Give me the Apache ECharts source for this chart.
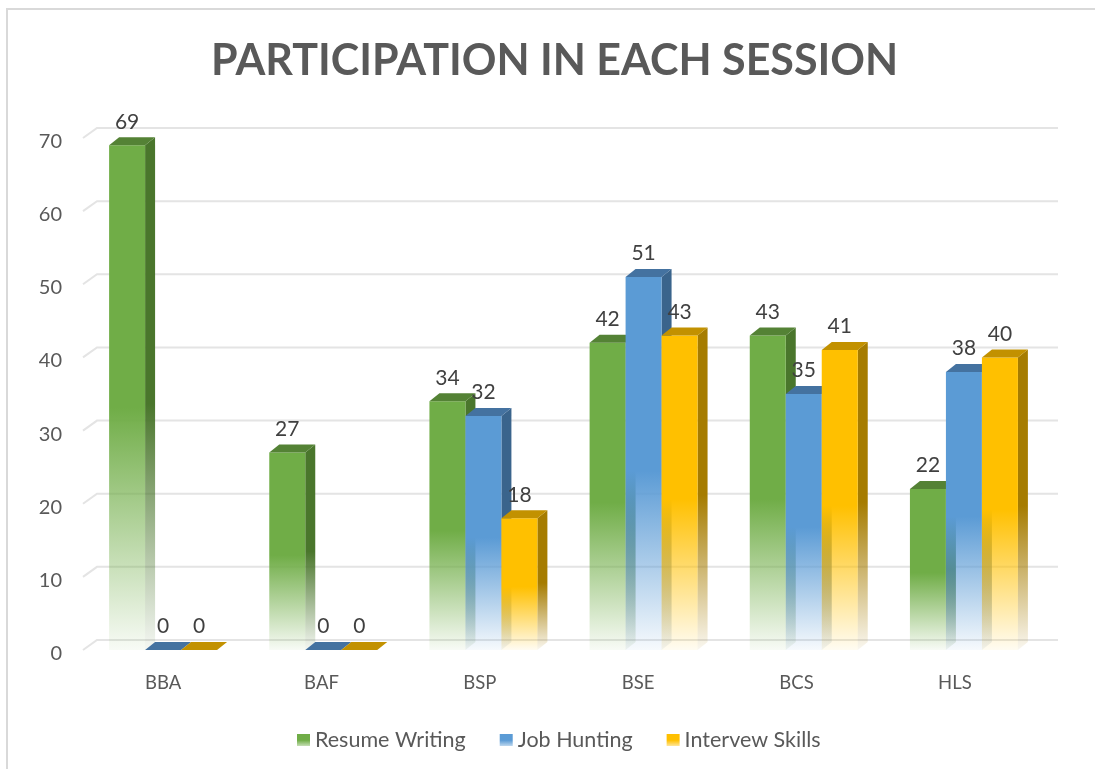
<!DOCTYPE html>
<html>
<head>
<meta charset="utf-8">
<script src="https://cdn.jsdelivr.net/npm/echarts@6/dist/echarts.min.js"></script>
<style>
html,body{margin:0;padding:0;background:#fff;}
#chart{width:1095px;height:769px;}
</style>
</head>
<body>
<div id="chart"></div>
<script>
var categories = ['BBA', 'BAF', 'BSP', 'BSE', 'BCS', 'HLS'];
var seriesNames = ['Resume Writing', 'Job Hunting', 'Intervew Skills'];
var resumeWriting = [69, 27, 34, 42, 43, 22];
var jobHunting = [0, 0, 32, 51, 35, 38];
var interviewSkills = [0, 0, 18, 43, 41, 40];
var yTicks = [0, 10, 20, 30, 40, 50, 60, 70];

var FONT = 'Lato';
var palette = [
  {front: [112, 173, 71], side: [74, 118, 44], top: [84, 130, 53]},
  {front: [91, 155, 213], side: [58, 100, 140], top: [68, 114, 160]},
  {front: [255, 192, 0], side: [166, 124, 0], top: [194, 145, 0]}
];
function rgba(c, a) { return 'rgba(' + c[0] + ',' + c[1] + ',' + c[2] + ',' + a + ')'; }
function fade(c, endA) {
  return new echarts.graphic.LinearGradient(0, 0, 0, 1, [
    {offset: 0, color: rgba(c, 1)},
    {offset: 0.52, color: rgba(c, 1)},
    {offset: 1, color: rgba(c, endA)}
  ]);
}
var DX = 10, DY = 8, BAR_RATIO = 0.2247;

function barRender(si) {
  var pal = palette[si];
  return function (params, api) {
    var ci = api.value(0), v = api.value(1);
    var base = api.coord([ci, 0]);
    var tp = api.coord([ci, v]);
    var band = api.size([1, 0])[0];
    var w = band * BAR_RATIO;
    var x0 = base[0] - 1.5 * w + si * w;
    var yb = base[1], yt = tp[1];
    var h = yb - yt;
    var children = [];
    if (h > 0) {
      children.push({
        type: 'polygon',
        shape: {points: [[x0 + w, yt], [x0 + w + DX, yt - DY], [x0 + w + DX, yb - DY], [x0 + w, yb]]},
        style: {fill: fade(pal.side, 0.06)}
      });
      children.push({
        type: 'rect',
        shape: {x: x0, y: yt, width: w, height: h},
        style: {fill: fade(pal.front, 0.05)}
      });
    }
    children.push({
      type: 'polygon',
      shape: {points: [[x0, yt], [x0 + DX, yt - DY], [x0 + w + DX, yt - DY], [x0 + w, yt]]},
      style: {fill: rgba(pal.top, 1)}
    });
    children.push({
      type: 'text',
      style: {
        text: String(v), x: x0 + w / 2, y: yt - 13,
        align: 'center', verticalAlign: 'bottom',
        fontSize: 21, fontFamily: FONT, fill: '#404040'
      }
    });
    return {type: 'group', children: children};
  };
}

function gridRender(params, api) {
  var t = api.value(1);
  var y = api.coord([0, t])[1];
  var cs = params.coordSys;
  return {
    type: 'polyline',
    shape: {points: [[cs.x, y], [cs.x + 14, y - 10], [cs.x + cs.width + 14, y - 10]]},
    style: {stroke: '#e4e4e4', lineWidth: 2, fill: null}
  };
}

function toPairs(arr) { return arr.map(function (v, i) { return [i, v]; }); }

var seriesData = [resumeWriting, jobHunting, interviewSkills];
var series = [{
  type: 'custom', name: '_grid', xAxisIndex: 0, yAxisIndex: 0, z: 1,
  renderItem: gridRender, silent: true,
  data: yTicks.map(function (t) { return [0, t]; }),
  encode: {x: 0, y: 1}
}];
seriesData.forEach(function (arr, si) {
  series.push({
    type: 'custom', name: seriesNames[si], xAxisIndex: 0, yAxisIndex: 0, z: 2,
    renderItem: barRender(si),
    itemStyle: {color: rgba(palette[si].front, 1)},
    data: toPairs(arr),
    encode: {x: 0, y: 1}
  });
});

var chart = echarts.init(document.getElementById('chart'));
chart.setOption({
  backgroundColor: '#ffffff',
  animation: false,
  graphic: [{
    type: 'rect', shape: {x: 7, y: 9, width: 1200, height: 900},
    style: {fill: null, stroke: '#d9d9d9', lineWidth: 2}, silent: true
  }],
  title: {
    text: 'PARTICIPATION IN EACH SESSION',
    left: 206, top: 35,
    textStyle: {fontFamily: FONT, fontWeight: 'bold', fontSize: 43, color: '#595959'}
  },
  legend: {
    bottom: 13, left: 292,
    itemWidth: 13, itemHeight: 12, itemGap: 34,
    icon: 'rect',
    textStyle: {fontFamily: FONT, fontSize: 21.5, color: '#595959'},
    data: seriesNames.map(function (n, i) {
      return {name: n, itemStyle: {color: fade(palette[i].front, 0.4)}};
    })
  },
  grid: [
    {left: 83, right: 51, top: 138, bottom: 119},
    {left: 84, width: 950, top: 138, bottom: 119}
  ],
  xAxis: [
    {type: 'category', gridIndex: 0, data: categories,
      axisLine: {show: false}, axisTick: {show: false}, axisLabel: {show: false}, splitLine: {show: false}},
    {type: 'category', gridIndex: 1, data: categories,
      axisLine: {show: false}, axisTick: {show: false}, splitLine: {show: false},
      axisLabel: {margin: 24, fontFamily: FONT, fontSize: 18.5, color: '#595959'}}
  ],
  yAxis: [
    {type: 'value', gridIndex: 0, min: 0, max: 70, interval: 10,
      axisLine: {show: false}, axisTick: {show: false}, splitLine: {show: false},
      axisLabel: {margin: 21, color: '#595959', formatter: '{a|{value}}',
        rich: {a: {fontFamily: FONT, fontSize: 20, color: '#595959', padding: [7, 0, 0, 0]}}}},
    {type: 'value', gridIndex: 1, min: 0, max: 70, show: false, splitLine: {show: false}}
  ],
  series: series
});
</script>
</body>
</html>
